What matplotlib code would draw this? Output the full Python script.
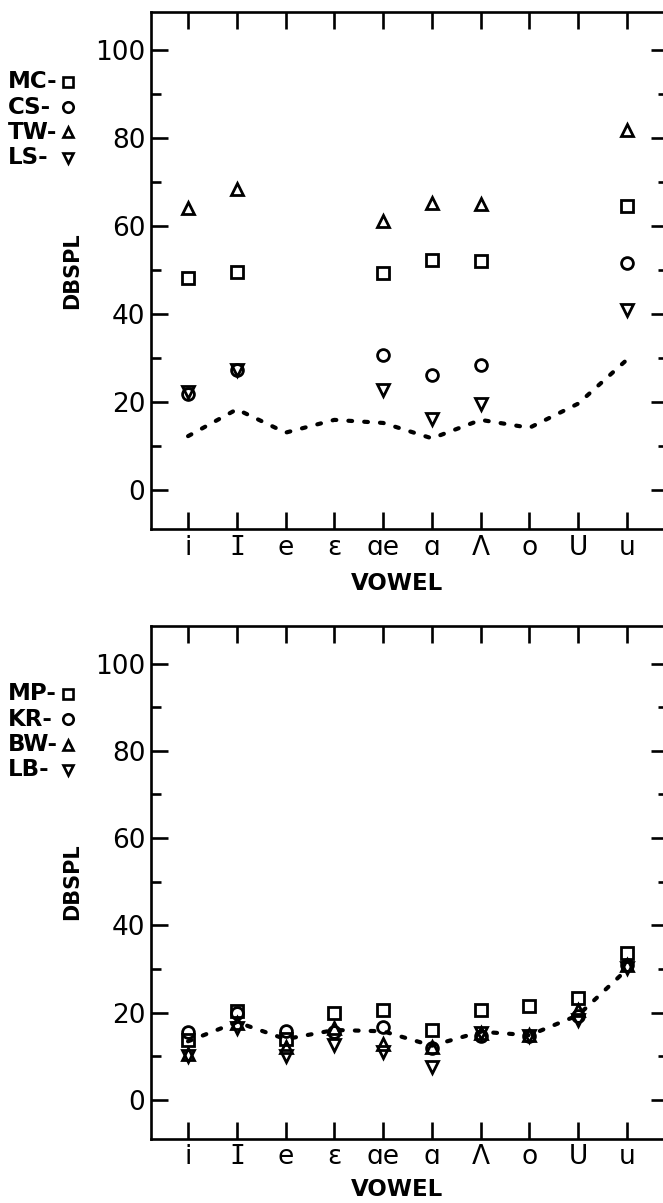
import numpy as np
import matplotlib
matplotlib.use("Agg")
import matplotlib.pyplot as plt
from matplotlib.lines import Line2D

nan = np.nan

# Vowel categories along the x axis
vowels = ["i", "I", "e", "ɛ", "ɑe", "ɑ", "Λ", "o", "U", "u"]

# Upper panel: listeners MC, CS, TW, LS (dB SPL)
top_names = ["MC", "CS", "TW", "LS"]
top_mc = [48.2, 49.4, nan, nan, 49.3, 52.3, 51.9, nan, nan, 64.5]
top_cs = [21.7, 27.2, nan, nan, 30.6, 26.1, 28.4, nan, nan, 51.6]
top_tw = [64.1, 68.3, nan, nan, 61.2, 65.2, 64.9, nan, nan, 81.7]
top_ls = [22.2, 27.2, nan, nan, 22.6, 16.1, 19.6, nan, nan, 40.8]
top_ref = [12.2, 18.3, 13.0, 15.9, 15.2, 11.7, 15.9, 14.1, 19.6, 29.6]

# Lower panel: listeners MP, KR, BW, LB (dB SPL)
bot_names = ["MP", "KR", "BW", "LB"]
bot_mp = [13.6, 20.4, 14.0, 20.0, 20.6, 16.1, 20.5, 21.4, 23.3, 33.6]
bot_kr = [15.5, 20.0, 15.8, 15.6, 16.6, 11.8, 14.6, 14.6, 19.2, 31.0]
bot_bw = [10.5, 17.6, 12.0, 16.4, 12.8, 12.2, 15.4, 14.8, 20.6, 30.8]
bot_lb = [10.0, 16.5, 10.0, 12.5, 10.9, 7.5, 15.2, 14.6, 18.2, 30.2]
bot_ref = [13.4, 17.8, 13.9, 16.0, 15.7, 12.4, 15.6, 14.8, 19.4, 29.9]

markers = ["s", "o", "^", "v"]

W, H = 663, 1203
fig = plt.figure(figsize=(W / 100, H / 100), dpi=100)

label_font = ["Liberation Sans Narrow", "DejaVu Sans"]


def px_box(left, top, right, bottom):
    return [left / W, 1 - bottom / H, (right - left) / W, (bottom - top) / H]


def draw_panel(rect, series, ref, names, legend_top, vowel_y):
    ax = fig.add_axes(rect)
    x = np.arange(1, len(vowels) + 1)
    ax.plot(x, ref, color="k", lw=3.0, ls=(0, (0.9, 2.9)),
            dash_capstyle="round")
    for vals, m in zip(series, markers):
        ax.plot(x, np.array(vals, dtype=float), ls="none", marker=m,
                ms=8.5, mfc="none", mec="k", mew=2.0)

    ax.set_xlim(0.24, 10.84)
    ax.set_ylim(-8.9, 108.7)
    ax.set_xticks(x, vowels)
    ax.set_yticks(np.arange(0, 101, 20))
    ax.set_yticks(np.arange(10, 100, 20), minor=True)
    ax.tick_params(which="both", direction="in", top=True, right=True,
                   width=1.9, colors="k")
    ax.tick_params(which="major", length=12)
    ax.tick_params(which="minor", length=7)
    ax.tick_params(axis="y", labelsize=19, pad=4)
    ax.tick_params(axis="x", labelsize=19, pad=4)
    ax.get_xticklabels()[1].set_fontfamily("DejaVu Sans Mono")
    for s in ax.spines.values():
        s.set_linewidth(1.9)

    # axis titles
    top_px = (1 - rect[1] - rect[3]) * H
    bot_px = (1 - rect[1]) * H
    fig.text(72 / W, 1 - (top_px + bot_px) / 2 / H, "DBSPL", rotation=90,
             ha="center", va="center", fontsize=15, fontweight="bold",
             family=label_font)
    fig.text(397 / W, 1 - vowel_y / H, "VOWEL", ha="center", va="center",
             fontsize=16.5, fontweight="bold", family=label_font)

    # key at the upper left
    for i, (name, m) in enumerate(zip(names, markers)):
        yc = legend_top + i * 25.3
        fig.text(8 / W, 1 - yc / H, name + "-", ha="left", va="center",
                 fontsize=16.5, fontweight="bold", family=label_font)
        fig.add_artist(Line2D([68 / W], [1 - yc / H], marker=m, ms=7.5,
                              mfc="none", mec="k", mew=1.9, ls="none",
                              transform=fig.transFigure))
    return ax


draw_panel(px_box(151, 11.5, 668, 529), [top_mc, top_cs, top_tw, top_ls],
           top_ref, top_names, 81.7, 584)
draw_panel(px_box(151, 625.6, 668, 1138.6), [bot_mp, bot_kr, bot_bw, bot_lb],
           bot_ref, bot_names, 694, 1189)

fig.savefig("out.png", dpi=100)
